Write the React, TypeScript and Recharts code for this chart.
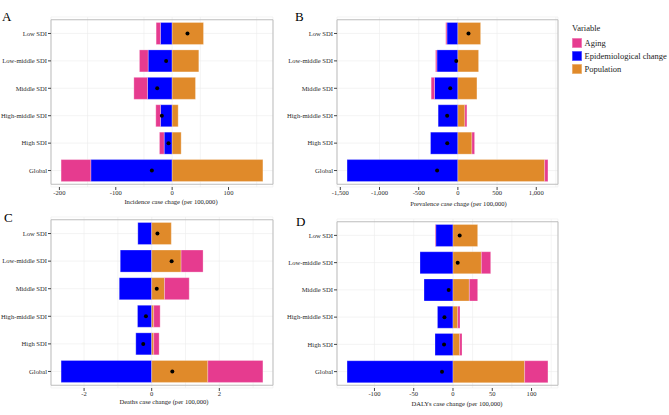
import React from 'react';
import {
    ComposedChart,
    Bar,
    Line,
    XAxis,
    YAxis,
    CartesianGrid,
    ReferenceArea
} from 'recharts';

const categories = ['Low SDI', 'Low-middle SDI', 'Middle SDI', 'High-middle SDI', 'High SDI', 'Global'];

// A - incidence
const incidenceAging = [-7.6, -15.4, -24.1, -8.3, -8.3, -52.7];
const incidenceEpi = [-20.8, -42.6, -43.8, -20.7, -14.2, -144.3];
const incidencePop = [55.6, 47.3, 41.4, 10.7, 16.0, 161.0];
const incidenceTotal = [27.2, -10.7, -26.5, -18.3, -6.5, -36.0];
const incidenceTicks = [-200, -100, 0, 100];
const incidenceMinor = [-150, -50, 50, 150];

// B - prevalence
const prevalenceAging = [-15, -17, -43, 26, 34, 42];
const prevalenceEpi = [-140, -268, -298, -252, -349, -1414];
const prevalencePop = [290, 264, 243, 89, 179, 1107];
const prevalenceTotal = [135, -21, -98, -137, -136, -265];
const prevalenceTicks = [-1500, -1000, -500, 0, 500, 1000];
const prevalenceMinor = [-1250, -750, -250, 250, 750, 1250];

// C - deaths
const deathsAging = [0, 0.65, 0.73, 0.19, 0.16, 1.63];
const deathsEpi = [-0.41, -0.93, -0.96, -0.42, -0.47, -2.68];
const deathsPop = [0.58, 0.87, 0.38, 0.06, 0.06, 1.66];
const deathsTotal = [0.17, 0.59, 0.15, -0.17, -0.25, 0.61];
const deathsTicks = [-2, 0, 2];
const deathsMinor = [-1, 1, 3];

// D - DALYs
const dalysAging = [-0.9, 11.9, 10.6, 2.9, 3.0, 29.7];
const dalysEpi = [-22.0, -42.0, -36.9, -19.8, -22.9, -134.9];
const dalysPop = [31.4, 36.1, 20.8, 6.0, 8.5, 91.2];
const dalysTotal = [8.5, 6.0, -5.5, -10.9, -11.4, -14.0];
const dalysTicks = [-100, -50, 0, 50, 100];
const dalysMinor = [-125, -75, -25, 25, 75, 125];

const legendItems = [
    { label: 'Aging', key: 'aging' },
    { label: 'Epidemiological change', key: 'epi' },
    { label: 'Population', key: 'pop' }
];

const COLORS: Record<string, string> = { aging: '#E63B8F', epi: '#0000FF', pop: '#E08A2A' };
const FONT = '"Liberation Serif", "Times New Roman", serif';
const AXIS_FS = 6.6;

const buildRows = (aging: number[], epi: number[], pop: number[], total: number[]) =>
    categories.map((name, i) => ({ name, aging: aging[i], epi: epi[i], pop: pop[i], total: total[i] }));

// ggplot style: stacked extent + 5% each side
const paddedDomain = (rows: any[]): [number, number] => {
    let lo = 0;
    let hi = 0;
    rows.forEach((r) => {
        const vals = [r.aging, r.epi, r.pop];
        const neg = vals.filter((v) => v < 0).reduce((a, b) => a + b, 0);
        const pos = vals.filter((v) => v > 0).reduce((a, b) => a + b, 0);
        lo = Math.min(lo, neg);
        hi = Math.max(hi, pos);
    });
    const pad = (hi - lo) * 0.05;
    return [lo - pad, hi + pad];
};

// plain svg text so long category names don't wrap
const CategoryTick = (props: any) => {
    const { x, y, payload } = props;
    return (
        <text x={x} y={y} dy="0.35em" textAnchor="end" fontSize={AXIS_FS} fill="#2b2b2b" fontFamily={FONT}>
            {payload.value}
        </text>
    );
};

interface PanelProps {
    left: number;
    top: number;
    width: number;
    height: number;
    marginTop: number;
    marginRight: number;
    yWidth: number;
    letter: string;
    letterLeft: number;
    letterTop: number;
    title: string;
    titleDx: number;
    titleOffset: number;
    rows: any[];
    ticks: number[];
    minor: number[];
    fmt?: (v: number) => string;
}

const Panel: React.FC<PanelProps> = (p) => {
    const domain = paddedDomain(p.rows);
    const gridTicks = [...p.ticks, ...p.minor].sort((a, b) => a - b);
    return (
        <>
            <div
                style={{
                    position: 'absolute', left: p.letterLeft, top: p.letterTop,
                    fontFamily: FONT, fontSize: 13, lineHeight: '13px', color: '#000'
                }}
            >
                {p.letter}
            </div>
            <div style={{ position: 'absolute', left: p.left, top: p.top }}>
                <ComposedChart
                    width={p.width}
                    height={p.height}
                    data={p.rows}
                    layout="vertical"
                    stackOffset="sign"
                    barCategoryGap="10%"
                    style={{ overflow: 'visible' }}
                    margin={{ top: p.marginTop, right: p.marginRight, bottom: 0, left: 0 }}
                >
                    <XAxis xAxisId="grid" type="number" domain={domain} ticks={gridTicks} allowDataOverflow hide />
                    <CartesianGrid xAxisId="grid" stroke="#ececec" strokeWidth={0.6} />
                    <XAxis
                        type="number"
                        domain={domain}
                        ticks={p.ticks}
                        allowDataOverflow
                        tickFormatter={p.fmt}
                        height={28}
                        axisLine={false}
                        tickLine={{ stroke: '#444' }}
                        tickSize={3}
                        tickMargin={0}
                        tick={{ fontSize: AXIS_FS, fill: '#2b2b2b', fontFamily: FONT }}
                        label={{
                            value: p.title, position: 'insideBottom', offset: p.titleOffset, dx: p.titleDx,
                            style: { fontSize: AXIS_FS, fill: '#222', fontFamily: FONT }
                        }}
                    />
                    <YAxis
                        type="category"
                        dataKey="name"
                        width={p.yWidth}
                        interval={0}
                        padding={{ top: 2.75, bottom: 2.75 }}
                        axisLine={false}
                        tickLine={{ stroke: '#444' }}
                        tickSize={3}
                        tickMargin={1}
                        tick={<CategoryTick />}
                    />
                    <Bar dataKey="epi" stackId="s" fill={COLORS.epi} stroke="rgba(255,255,255,0.45)" strokeWidth={0.6} isAnimationActive={false} />
                    <Bar dataKey="pop" stackId="s" fill={COLORS.pop} stroke="rgba(255,255,255,0.45)" strokeWidth={0.6} isAnimationActive={false} />
                    <Bar dataKey="aging" stackId="s" fill={COLORS.aging} stroke="rgba(255,255,255,0.45)" strokeWidth={0.6} isAnimationActive={false} />
                    <Line
                        dataKey="total"
                        stroke="none"
                        dot={{ r: 2, fill: '#000', stroke: 'none' }}
                        activeDot={false}
                        legendType="none"
                        isAnimationActive={false}
                    />
                    <ReferenceArea x1={domain[0]} x2={domain[1]} fill="none" stroke="#bdbdbd" strokeWidth={1} />
                </ComposedChart>
            </div>
        </>
    );
};

const commaFmt = (v: number) => v.toLocaleString('en-US');

export default function App() {
    return (
        <div style={{ position: 'absolute', left: 0, top: 0, width: 669, height: 415, background: '#fff', fontFamily: FONT }}>
            <Panel
                left={0} top={0} width={290} height={215} marginTop={17} marginRight={17} yWidth={51}
                letter="A" letterLeft={2} letterTop={10}
                title="Incidence case chage (per 100,000)" titleDx={9} titleOffset={11}
                rows={buildRows(incidenceAging, incidenceEpi, incidencePop, incidenceTotal)}
                ticks={incidenceTicks} minor={incidenceMinor}
            />
            <Panel
                left={276} top={0} width={286} height={215} marginTop={17} marginRight={4} yWidth={61}
                letter="B" letterLeft={295} letterTop={10}
                title="Prevalence case chage (per 100,000)" titleDx={11} titleOffset={9}
                rows={buildRows(prevalenceAging, prevalenceEpi, prevalencePop, prevalenceTotal)}
                ticks={prevalenceTicks} minor={prevalenceMinor} fmt={commaFmt}
            />
            <Panel
                left={0} top={200} width={290} height={216} marginTop={17} marginRight={17} yWidth={51}
                letter="C" letterLeft={4} letterTop={211}
                title="Deaths case change (per 100,000)" titleDx={2} titleOffset={12.5}
                rows={buildRows(deathsAging, deathsEpi, deathsPop, deathsTotal)}
                ticks={deathsTicks} minor={deathsMinor}
            />
            <Panel
                left={276} top={200} width={286} height={216} marginTop={19} marginRight={4} yWidth={61}
                letter="D" letterLeft={296} letterTop={215}
                title="DALYs case change (per 100,000)" titleDx={9.5} titleOffset={10.5}
                rows={buildRows(dalysAging, dalysEpi, dalysPop, dalysTotal)}
                ticks={dalysTicks} minor={dalysMinor}
            />
            <div style={{ position: 'absolute', left: 572, top: 23, fontSize: 8.5, lineHeight: '10px', color: '#222' }}>
                Variable
            </div>
            <div style={{ position: 'absolute', left: 572, top: 36, display: 'flex', flexDirection: 'column' }}>
                {legendItems.map((it) => (
                    <div key={it.key} style={{ display: 'flex', alignItems: 'center', height: 13.3 }}>
                        <div
                            style={{
                                width: 10, height: 10, background: COLORS[it.key],
                                boxShadow: 'inset 0 0 0 0.7px rgba(255,255,255,0.45)'
                            }}
                        />
                        <span style={{ marginLeft: 2.5, fontSize: 8.5, lineHeight: '10px', color: '#222', whiteSpace: 'nowrap' }}>
                            {it.label}
                        </span>
                    </div>
                ))}
            </div>
        </div>
    );
}
